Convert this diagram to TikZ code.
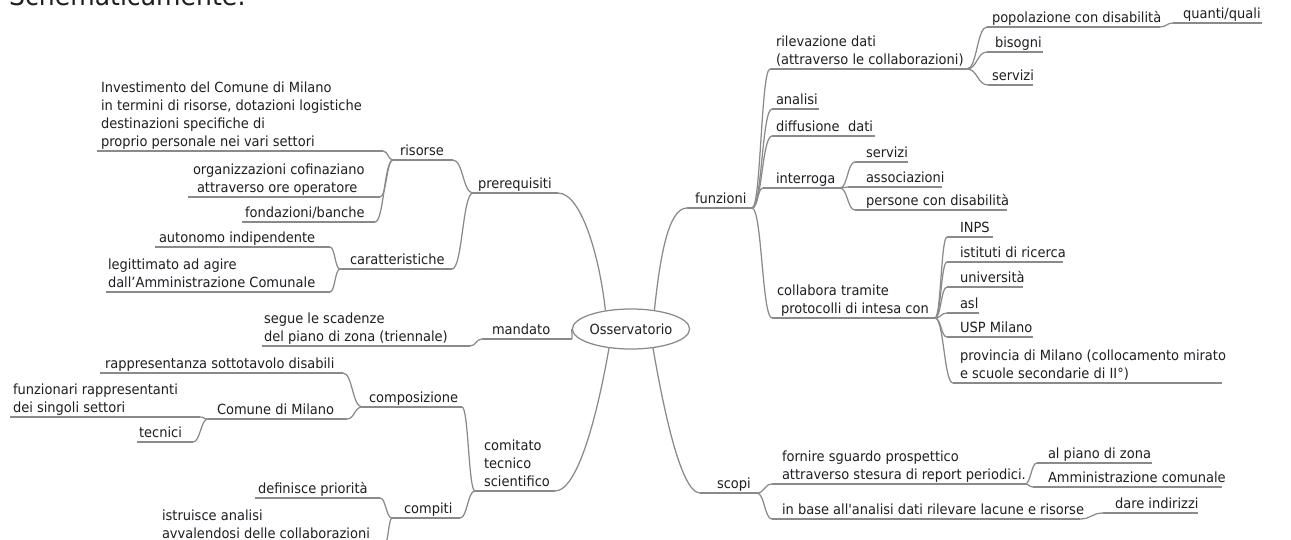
\documentclass[tikz,border=0pt]{standalone}
\usepackage{fontspec}
\setmainfont{DejaVu Sans}[Ligatures=TeXOff, FakeStretch=0.93]
\usetikzlibrary{calc,shapes.geometric}
\definecolor{lncol}{HTML}{8A8A8A}
\definecolor{txcol}{HTML}{1E1E24}
\newcommand\dstrut{\rule[-3.2pt]{0pt}{1pt}}
\tikzset{
  ln/.style={draw=lncol, line width=1.25pt},
  txt/.style={anchor=south west, inner xsep=0pt, inner ysep=1.8pt, outer sep=0pt,
    text=txcol, font=\fontsize{14}{18}\selectfont, align=left},
  sc/.style={to path={.. controls ($(\tikztostart)!0.5!(\tikztostart -| \tikztotarget)$)
     and ($(\tikztotarget)!0.5!(\tikztotarget -| \tikztostart)$) .. (\tikztotarget)}},
}
% name, x of text, y of underline, left end, right end, text
\newcommand\tp[6]{%
  \node[txt] (#1) at (#2,#3) {#6\dstrut};
  \coordinate (#1L) at (#4,#3);
  \coordinate (#1R) at (#5,#3);
  \draw[ln] (#1L) -- (#1R);
}
\begin{document}
\begin{tikzpicture}[x=1pt,y=-1pt]
\useasboundingbox (0,0) rectangle (1291,539);
\clip (0,0) rectangle (1291,539);
\node[anchor=base west, inner sep=0pt, text=txcol, font=\fontsize{27}{27}\selectfont] (title) at (9,5) {Schematicamente:};

% central node
\node[ellipse, draw=lncol, line width=1.25pt, minimum width=102pt, minimum height=40pt,
  inner sep=0pt, text=txcol, font=\fontsize{14}{18}\selectfont] (ell) at (631,329) {Osservatorio};

% ---------- left side ----------
\tp{inv}{101}{151}{97}{383}{Investimento del Comune di Milano\\in termini di risorse, dotazioni logistiche\\destinazioni specifiche di\\proprio personale nei vari settori}
\tp{org}{193}{197}{188}{380}{organizzazioni cofinaziano\\\hspace*{4pt}attraverso ore operatore}
\tp{fon}{245}{222}{242}{375}{fondazioni/banche}
\tp{ris}{400}{160}{393}{453}{risorse}
\tp{aut}{159}{247}{155}{330}{autonomo indipendente}
\tp{leg}{108}{292}{106}{330}{legittimato ad agire\\dall’Amministrazione Comunale}
\tp{car}{350}{269}{340}{452}{caratteristiche}
\tp{pre}{478}{193}{473}{558}{prerequisiti}
\tp{seg}{264}{346}{262}{470}{segue le scadenze\\del piano di zona (triennale)}
\tp{man}{492}{339}{482}{572}{mandato}
\tp{rap}{105}{373}{100}{343}{rappresentanza sottotavolo disabili}
\tp{fun}{13}{417}{10}{200}{funzionari rappresentanti\\dei singoli settori}
\tp{com}{217}{419}{208}{347}{Comune di Milano}
\tp{tec}{139}{442}{137}{193}{tecnici}
\tp{cps}{369}{407}{362}{462}{composizione}
\tp{def}{258}{498}{255}{380}{definisce priorità}
\tp{cpt}{404}{518}{392}{460}{compiti}
\tp{ist}{162}{543}{160}{385}{istruisce analisi\\avvalendosi delle collaborazioni}
\tp{cts}{484}{491}{475}{555}{comitato\\tecnico\\scientifico}

% ---------- right side ----------
\tp{fz}{695}{208}{687}{752}{funzioni}
\tp{ril}{776}{69}{770}{967}{rilevazione dati\\(attraverso le collaborazioni)}
\tp{pop}{992}{27}{987}{1160}{popolazione con disabilità}
\tp{qq}{1183}{23}{1173}{1262}{quanti/quali}
\tp{bis}{995}{52}{987}{1043}{bisogni}
\tp{srv}{992}{85}{988}{1033}{servizi}
\tp{ana}{776}{109}{772}{819}{analisi}
\tp{dif}{776}{136}{772}{875}{diffusione\ \ dati}
\tp{int}{776}{188}{763}{840}{interroga}
\tp{srvb}{866}{162}{855}{908}{servizi}
\tp{ass}{866}{187}{848}{942}{associazioni}
\tp{per}{866}{210}{855}{1007}{persone con disabilità}
\tp{col}{777}{318}{772}{935}{collabora tramite\\\hspace*{4pt}protocolli di intesa con}
\tp{inps}{960}{237}{947}{993}{INPS}
\tp{isr}{960}{262}{947}{1063}{istituti di ricerca}
\tp{uni}{960}{287}{947}{1023}{università}
\tp{asl}{960}{313}{947}{979}{asl}
\tp{usp}{960}{337}{947}{1033}{USP Milano}
\tp{prv}{960}{383}{953}{1222}{provincia di Milano (collocamento mirato\\e scuole secondarie di II°)}
\tp{scp}{717}{493}{700}{757}{scopi}
\tp{frn}{782}{484}{772}{1025}{fornire sguardo prospettico\\attraverso stesura di report periodici.}
\tp{alp}{1048}{463}{1037}{1152}{al piano di zona}
\tp{amm}{1048}{487}{1033}{1222}{Amministrazione comunale}
\tp{inb}{782}{519}{772}{1080}{in base all'analisi dati rilevare lacune e risorse}
\tp{dar}{1115}{513}{1103}{1198}{dare indirizzi}

% ---------- root connectors ----------
\draw[ln] (ell.144) .. controls (600,260) and (582,193) .. (preR);
\draw[ln] (ell.39) .. controls (660,258) and (668,208) .. (fzL);
\draw[ln] (ell.221) .. controls (600,400) and (580,491) .. (ctsR);
\draw[ln] (ell.319) .. controls (662,400) and (680,493) .. (scpL);
\draw[ln] (ell.west) to[sc] (manR);

% ---------- tree connectors ----------
\foreach \a/\b in {risL/invR, risL/orgR, risL/fonR, carL/autR, carL/legR,
  preL/risR, preL/carR, manL/segR, cpsL/rapR, cpsL/comR, comL/funR, comL/tecR,
  cptL/defR, cptL/istR, ctsL/cpsR, ctsL/cptR,
  fzR/rilL, fzR/anaL, fzR/difL, fzR/intL, fzR/colL,
  rilR/popL, rilR/bisL, rilR/srvL, popR/qqL,
  intR/srvbL, intR/assL, intR/perL,
  colR/inpsL, colR/isrL, colR/uniL, colR/aslL, colR/uspL, colR/prvL,
  scpR/frnL, scpR/inbL, frnR/alpL, frnR/ammL, inbR/darL}
  \draw[ln] (\a) to[sc] (\b);
\end{tikzpicture}
\end{document}
